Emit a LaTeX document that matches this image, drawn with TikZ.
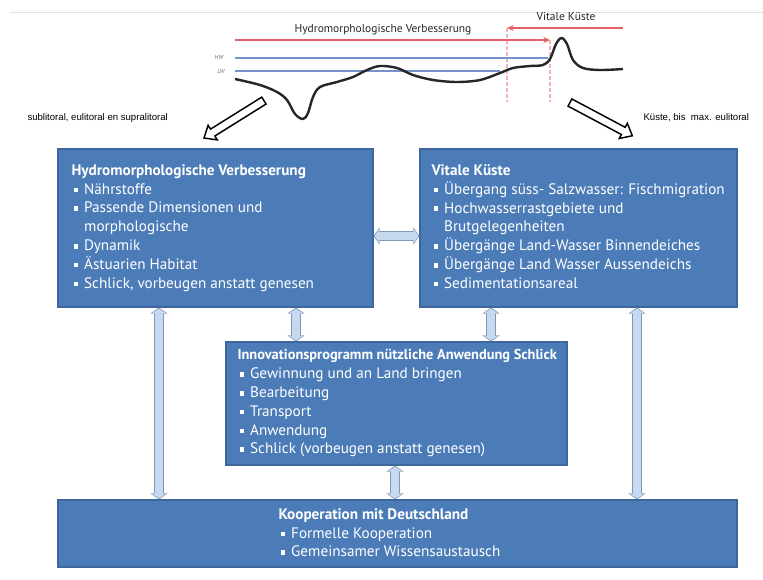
\documentclass[tikz,border=0pt]{standalone}
\usepackage{fontspec}
\setmainfont{PT Sans}
\newfontfamily\labfont{Liberation Sans}
\usetikzlibrary{arrows.meta,shapes.arrows,fit}

\definecolor{boxfill}{RGB}{76,124,183}
\definecolor{boxedge}{RGB}{62,102,156}
\definecolor{linkfill}{RGB}{198,217,241}
\definecolor{linkedge}{RGB}{130,150,182}
\definecolor{redline}{RGB}{228,96,100}
\definecolor{pinkdash}{RGB}{242,180,184}
\definecolor{waterline}{RGB}{118,146,204}
\definecolor{soilline}{RGB}{38,38,38}
\definecolor{rulegrey}{RGB}{226,226,226}

\newcommand{\bul}{\hspace*{1.5pt}\makebox[8pt][l]{\rule[0.25ex]{3.5pt}{3.5pt}}}
\newcommand{\cnt}{\hspace*{9.5pt}}

\tikzset{every picture/.style={line width=0.75pt}}
\tikzset{
  box/.style={draw=boxedge, fill=boxfill, line width=0.8pt, inner sep=0pt},
  boxtext/.style={anchor=north west, inner sep=0pt, align=left, text=white,
    font=\fontsize{11.4}{14.1}\selectfont},
  link/.style={draw=linkfill, line width=6pt,
    arrows={Triangle[length=3.5pt,width=10.5pt]-Triangle[length=3.5pt,width=10.5pt]},
    shorten <=0.8pt, shorten >=0.8pt,
    preaction={draw=linkedge, line width=7.5pt, shorten <=0pt, shorten >=0pt,
      arrows={Triangle[length=4.6pt,width=12.8pt]-Triangle[length=4.6pt,width=12.8pt]}}},
  redarrow/.style={draw=redline, line width=1.1pt, -{Stealth[length=5pt,width=4.5pt]}},
  pinkline/.style={draw=pinkdash, line width=0.8pt, dash pattern={on 3pt off 1.5pt}},
  water/.style={draw=waterline, line width=1.4pt},
  hollow/.style={single arrow, draw=black, fill=white, line width=1.1pt, inner sep=2.5pt,
    minimum height=53pt, single arrow head extend=3.4pt, single arrow tip angle=80},
  toplabel/.style={inner sep=0pt, text=black!85, font=\fontsize{8.6}{10}\selectfont},
  sidelabel/.style={anchor=west, inner sep=0pt, font=\labfont\fontsize{7.2}{9}\selectfont},
}

\begin{document}
\begin{tikzpicture}[x=0.75pt,y=0.75pt,yscale=-1,xscale=1]
\useasboundingbox (0,0) rectangle (763,579);

%Top rule
\draw [draw=rulegrey, line width=0.6pt] (10,12) -- (763,12);

%Dashed zone limits
\draw [pinkline] (507,28) -- (507,102);
\draw [pinkline] (550,40) -- (550,102);

%Zone arrows
\draw [redarrow] (235,40) -- (550,40);
\draw [redarrow] (623,28) -- (507,28);
\node [toplabel] (hvlabel) at (383,30) {Hydromorphologische Verbesserung};
\node [toplabel] (vklabel) at (566,17) {Vitale Küste};

%Water levels
\draw [water] (235,58) -- (548,58);
\draw [water] (235,71) -- (500,71);
\node [inner sep=0pt, text=black!55, font=\fontsize{4.5}{5}\selectfont\itshape] (hw) at (219,57) {HW};
\node [inner sep=0pt, text=black!55, font=\fontsize{4.5}{5}\selectfont\itshape] (lw) at (221,71) {LW};

%Bottom profile
\draw [draw=soilline, line width=1.8pt, line join=round] plot [smooth, tension=0.55] coordinates {
  (235,79) (260,85) (277,92) (287,100) (295,114) (303,119) (308,113) (313,97)
  (320,87) (337,82) (353,77) (367,70) (380,66) (397,68) (413,75) (433,80)
  (457,82) (480,80) (500,73) (513,68) (530,66) (543,65) (550,59) (556,44)
  (561.5,38) (567,44) (573,60) (583,68) (600,70) (623,69)};

%Hollow arrows to the boxes
\node [hollow, rotate=212] (arrL) at (236,118) {};
\node [hollow, rotate=-28] (arrR) at (599,118) {};
\node [sidelabel] (sublab) at (27,118) {sublitoral, eulitoral en supralitoral};
\node [sidelabel] (kuelab) at (643,118) {Küste, bis\ \ max. eulitoral};

%Boxes
\node [box, fit={(58,149) (373,307)}] (hv) {};
\node [box, fit={(420,149) (737,307)}] (vk) {};
\node [box, fit={(226,342) (567,465)}] (inno) {};
\node [box, fit={(58,500) (737,567)}] (koop) {};

%Box texts
\node [boxtext] (hvtext) at (71,164) {\textbf{Hydromorphologische Verbesserung}\\
  \bul Nährstoffe\\
  \bul Passende Dimensionen und\\
  \cnt morphologische\\
  \bul Dynamik\\
  \bul Ästuarien Habitat\\
  \bul Schlick, vorbeugen anstatt genesen};
\node [boxtext] (vktext) at (431,164) {\textbf{Vitale Küste}\\
  \bul Übergang süss- Salzwasser: Fischmigration\\
  \bul Hochwasserrastgebiete und\\
  \cnt Brutgelegenheiten\\
  \bul Übergänge Land-Wasser Binnendeiches\\
  \bul Übergänge Land Wasser Aussendeichs\\
  \bul Sedimentationsareal};
\node [boxtext] (innotext) at (237,349) {{\fontsize{10.8}{14.1}\selectfont\bfseries Innovationsprogramm nützliche Anwendung Schlick}\\
  \bul Gewinnung und an Land bringen\\
  \bul Bearbeitung\\
  \bul Transport\\
  \bul Anwendung\\
  \bul Schlick (vorbeugen anstatt genesen)};
\node [boxtext] (kooptext) at (278,508) {\textbf{Kooperation mit Deutschland}\\
  \bul Formelle Kooperation\\
  \bul Gemeinsamer Wissensaustausch};

%Links between boxes
\coordinate (xl) at (159,0);
\coordinate (xa) at (296,0);
\coordinate (xb) at (491,0);
\coordinate (xk) at (395,0);
\coordinate (xr) at (637,0);
\coordinate (ym) at (0,236);
\draw [link] (hv.east |- ym) -- (vk.west |- ym);
\draw [link] (xl |- hv.south) -- (xl |- koop.north);
\draw [link] (xa |- hv.south) -- (xa |- inno.north);
\draw [link] (xb |- vk.south) -- (xb |- inno.north);
\draw [link] (xk |- inno.south) -- (xk |- koop.north);
\draw [link] (xr |- vk.south) -- (xr |- koop.north);

\end{tikzpicture}
\end{document}
